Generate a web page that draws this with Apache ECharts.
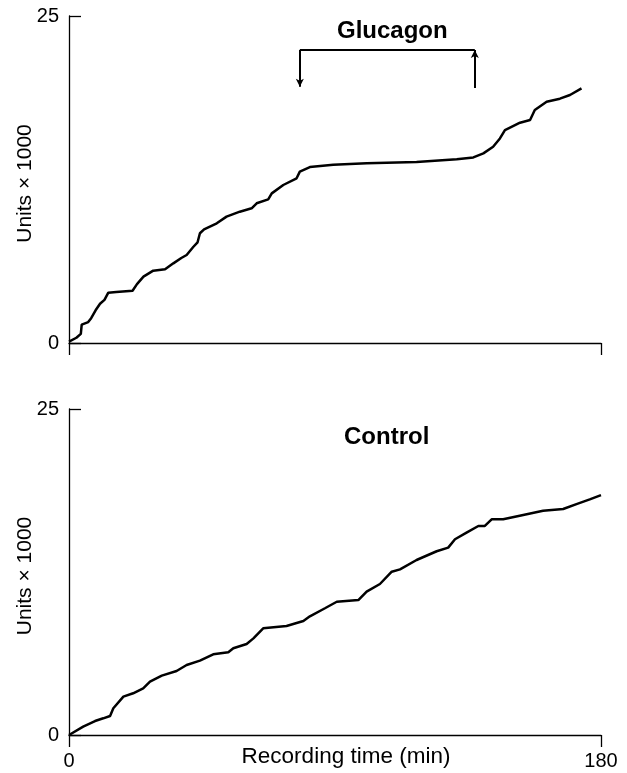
<!DOCTYPE html>
<html>
<head>
<meta charset="utf-8">
<script src="https://cdn.jsdelivr.net/npm/echarts@6/dist/echarts.min.js"></script>
<style>
html,body{margin:0;padding:0;background:#fff;}
#main{width:627px;height:773px;}
</style>
</head>
<body>
<div id="main"></div>
<script>
// Glucagon panel (time in min, units x1000)
var glucagonTime = [0,2.5,4.0,4.3,6.5,7.5,9,10.5,12,13.3,16,21.5,23,25.2,28.5,32.5,35.3,38,39.8,42.1,43.5,44.3,45.7,50,53.3,57.8,61.8,63.5,67.4,68.6,72.5,77,78.1,81.5,89.4,100.7,117.6,131.2,136.8,140.2,143.5,145.8,147.5,152.6,156,157.6,161.6,166.1,169.5,173.4];
var glucagonUnits = [0.1,0.4,0.7,1.4,1.6,1.9,2.5,3.0,3.3,3.85,3.9,4.0,4.5,5.07,5.53,5.63,6.09,6.5,6.73,7.36,7.7,8.39,8.69,9.15,9.66,10.04,10.3,10.68,10.98,11.44,12.08,12.59,13.1,13.45,13.63,13.74,13.84,14.04,14.19,14.5,15.0,15.64,16.28,16.84,17.05,17.81,18.45,18.68,18.96,19.47];
// Control panel
var controlTime = [0,4.8,8.8,11.6,13.9,15,18.4,21.7,25.1,27.4,31.4,36.4,39.8,44.3,48.8,53.9,55.6,60.1,62.4,65.7,73.6,79.3,81.5,86.6,90.6,97.9,100.7,105.2,109.2,112,117.6,124.4,128.3,130.6,134.5,138.5,140.7,143,146.9,152.5,160.4,167.2,171.7,176.2,180];
var controlUnits = [0,0.64,1.07,1.28,1.46,2.05,2.94,3.2,3.58,4.09,4.55,4.91,5.37,5.7,6.19,6.34,6.65,6.98,7.41,8.18,8.36,8.74,9.1,9.72,10.22,10.35,10.99,11.58,12.52,12.7,13.42,14.09,14.37,15.01,15.52,16.03,16.03,16.54,16.54,16.82,17.2,17.33,17.71,18.07,18.4];
// Glucagon infusion period (min) and bracket level (units x1000)
var glucagonOn = 78.1;
var glucagonOff = 137.3;
var bracketLevel = 22.4;
var arrowTipOn = 19.6;
var arrowBaseOff = 19.5;

var xTicks = [0, 180];
var yTicks = [0, 25];
var panelTitles = ['Glucagon', 'Control'];
var yName = 'Units \u00d7 1000';
var xName = 'Recording time (min)';

function zip(a, b) { return a.map(function (v, i) { return [v, b[i]]; }); }

var FONT = '"Liberation Sans", Arial, Helvetica, sans-serif';
var chart = echarts.init(document.getElementById('main'), null, {renderer: 'canvas'});

function xAxisCfg(idx, showLabels) {
  return {
    type: 'value', gridIndex: idx, min: xTicks[0], max: xTicks[1], interval: xTicks[1] - xTicks[0],
    axisLine: {show: true, lineStyle: {color: '#000', width: 1.3}},
    axisTick: {show: true, inside: false, length: 12, lineStyle: {color: '#000', width: 1.3}},
    axisLabel: {show: showLabels, color: '#000', fontSize: 20, fontFamily: FONT, margin: 16},
    splitLine: {show: false},
    name: showLabels ? xName : '',
    nameLocation: 'middle', nameGap: 10, nameMoveOverlap: false,
    nameTextStyle: {color: '#000', fontSize: 22.5, fontFamily: FONT, padding: [0, 0, 0, 22], verticalAlign: 'top'}
  };
}
function yAxisCfg(idx) {
  return {
    type: 'value', gridIndex: idx, min: yTicks[0], max: yTicks[1], interval: yTicks[1] - yTicks[0],
    axisLine: {show: true, lineStyle: {color: '#000', width: 1.3}},
    axisTick: {show: true, inside: true, length: 12, lineStyle: {color: '#000', width: 1.3}},
    axisLabel: {show: true, color: '#000', fontSize: 20, fontFamily: FONT, margin: 10},
    splitLine: {show: false},
    name: yName, nameLocation: 'middle', nameGap: 33, nameMoveOverlap: false,
    nameTextStyle: {color: '#000', fontSize: 21, fontFamily: FONT, padding: [0, 8, 0, 0]}
  };
}

var option = {
  backgroundColor: '#fff',
  animation: false,
  grid: [
    {left: 69, right: 26, top: 16, height: 327, outerBoundsMode: 'none', containLabel: false},
    {left: 69, right: 26, top: 409, height: 326, outerBoundsMode: 'none', containLabel: false}
  ],
  xAxis: [xAxisCfg(0, false), xAxisCfg(1, true)],
  yAxis: [yAxisCfg(0), yAxisCfg(1)],
  graphic: [
    {type: 'text', left: 337, top: 19, style: {text: panelTitles[0], font: 'bold 24px ' + FONT, fill: '#000'}},
    {type: 'text', left: 344, top: 425, style: {text: panelTitles[1], font: 'bold 24px ' + FONT, fill: '#000'}}
  ],
  series: [
    {
      type: 'line', xAxisIndex: 0, yAxisIndex: 0, data: zip(glucagonTime, glucagonUnits),
      showSymbol: false, symbol: 'none', lineStyle: {color: '#000', width: 2.5}, silent: true,
      markLine: {
        silent: true, animation: false, label: {show: false},
        lineStyle: {color: '#000', width: 2, type: 'solid'},
        symbol: ['none', 'none'],
        data: [
          [{coord: [glucagonOn, bracketLevel], symbol: 'none'}, {coord: [glucagonOn, arrowTipOn], symbol: 'arrow', symbolSize: [6, 8]}],
          [{coord: [glucagonOn, bracketLevel], symbol: 'none'}, {coord: [glucagonOff, bracketLevel], symbol: 'none'}],
          [{coord: [glucagonOff, arrowBaseOff], symbol: 'none'}, {coord: [glucagonOff, bracketLevel], symbol: 'arrow', symbolSize: [6, 8]}]
        ]
      }
    },
    {
      type: 'line', xAxisIndex: 1, yAxisIndex: 1, data: zip(controlTime, controlUnits),
      showSymbol: false, symbol: 'none', lineStyle: {color: '#000', width: 2.5}, silent: true
    }
  ]
};
chart.setOption(option);
</script>
</body>
</html>
